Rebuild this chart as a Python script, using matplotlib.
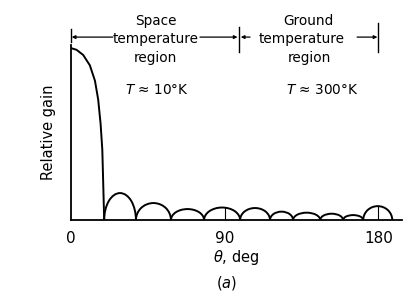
import matplotlib
matplotlib.use("Agg")
import matplotlib.pyplot as plt
from matplotlib.patches import Arc
from matplotlib.transforms import blended_transform_factory

# ---- data ----
main_deg = [0.0, 3.3, 7.2, 11.1, 14.1, 16.0, 17.4, 18.4, 18.9, 19.3, 19.5]
main_gain = [1.0, 0.99, 0.96, 0.90, 0.81, 0.70, 0.56, 0.41, 0.23, 0.078, 0.0]
null_deg = [19.5, 38.1, 58.6, 78.0, 99.1, 116.6, 130.1, 146.0, 159.4, 171.2, 188.2]
side_peak = [0.157, 0.099, 0.064, 0.073, 0.070, 0.049, 0.043, 0.037, 0.029, 0.081]
marker_deg = [90, 180]
xticks = [0, 90, 180]
xticklabels = ["0", "90", "180"]
region_bounds = [0, 98.5, 180]

plt.rcParams['font.family'] = ['DejaVu Sans']
plt.rcParams['mathtext.fontset'] = 'dejavusans'

fig = plt.figure(figsize=(4.05, 2.97), dpi=100)
ax = fig.add_axes([0.175, 0.259, 0.818, 0.589])
lw = 1.4

ax.plot(main_deg, main_gain, color='black', lw=lw, solid_capstyle='round')
for a, b, h in zip(null_deg[:-1], null_deg[1:], side_peak):
    ax.add_patch(Arc(((a + b) / 2, 0), b - a, 2 * h, theta1=0, theta2=180,
                     color='black', lw=lw))

# vertical markers inside lobes at 90 and 180 deg
for m in marker_deg:
    for a, b, h in zip(null_deg[:-1], null_deg[1:], side_peak):
        if a <= m <= b:
            c = (a + b) / 2
            r = (m - c) / ((b - a) / 2)
            ax.plot([m, m], [0, h * max(0.0, 1 - r * r) ** 0.5],
                    color='black', lw=0.8)

ax.set_xlim(0, 194)
ax.set_ylim(0, 1.017)
for s in ['top', 'right']:
    ax.spines[s].set_visible(False)
for s in ['left', 'bottom']:
    ax.spines[s].set_linewidth(1.3)
ax.set_yticks([])
ax.set_xticks(xticks)
ax.set_xticklabels(xticklabels, fontsize=11)
ax.tick_params(axis='x', length=0, pad=8)
ax.set_xlabel(r"$\theta$, deg", fontsize=10.5, labelpad=1)
ax.set_ylabel("Relative gain", fontsize=10.5, labelpad=11)
ax.text(0.47, -0.36, r"($a$)", transform=ax.transAxes, ha='center',
        va='center', fontsize=10.5)

tr = blended_transform_factory(ax.transData, ax.transAxes)
fs = 9.8
# region texts
for x, y, t in [(49.5, 1.137, "Space"), (49.8, 1.035, "temperature"),
                (49.5, 0.925, "region"), (50.4, 0.743, r"$T$ ≈ 10°K"),
                (139, 1.137, "Ground"), (135.4, 1.035, "temperature"),
                (139.5, 0.925, "region"), (147, 0.743, r"$T$ ≈ 300°K")]:
    ax.text(x, y, t, transform=tr, ha='center', va='center', fontsize=fs,
            clip_on=False)

# bracket ticks
for x, y0, y1 in [(region_bounds[0], 1.017, 1.091),
                  (region_bounds[1], 0.96, 1.103),
                  (region_bounds[2], 0.96, 1.126)]:
    ax.plot([x, x], [y0, y1], transform=tr, color='black', lw=1.0,
            clip_on=False)

# arrows
arrowprops = dict(arrowstyle='-|>', color='black', lw=0.9,
                  mutation_scale=5, shrinkA=0, shrinkB=0)
for x0, x1 in [(24.6, 0.5), (75.6, 97.6), (104.9, 99.5), (167.6, 179.5)]:
    ax.annotate("", xy=(x1, 1.046), xytext=(x0, 1.046), xycoords=tr,
                textcoords=tr, arrowprops=arrowprops, annotation_clip=False)

fig.savefig("out.png", dpi=100)
